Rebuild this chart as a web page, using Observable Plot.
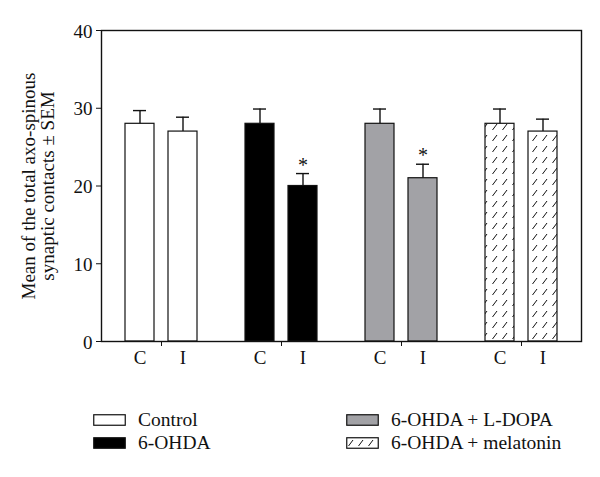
<!DOCTYPE html>
<html>
<head>
<meta charset="utf-8">
<script src="https://cdn.jsdelivr.net/npm/d3@7"></script>
<script src="https://cdn.jsdelivr.net/npm/@observablehq/plot@0.6"></script>
<style>
  html, body { margin: 0; padding: 0; background: white; }
  #wrap { position: relative; width: 600px; height: 477px; font-family: "Liberation Serif", serif; color: #111; }
  .leg { position: absolute; font-size: 19.5px; display: flex; align-items: center; white-space: nowrap; }
  .leg svg { margin-right: 12px; }
</style>
</head>
<body>
<div id="wrap"></div>
<script>
const groups = ["Control", "6-OHDA", "6-OHDA + L-DOPA", "6-OHDA + melatonin"];
const sides = ["C", "I"];
const barGroup = ["Control", "Control", "6-OHDA", "6-OHDA", "6-OHDA + L-DOPA", "6-OHDA + L-DOPA", "6-OHDA + melatonin", "6-OHDA + melatonin"];
const barSide = ["C", "I", "C", "I", "C", "I", "C", "I"];
const means = [28, 27, 28, 20, 28, 21, 28, 27];
const sems = [1.7, 1.85, 1.9, 1.6, 1.9, 1.8, 1.9, 1.6];
const significant = [false, false, false, true, false, true, false, false];
const groupFills = ["white", "black", "#a2a2a6", "url(#hatch)"];
const yTicks = [0, 10, 20, 30, 40];

const data = means.map((m, i) => ({
  group: barGroup[i], side: barSide[i], mean: m, top: m + sems[i], sig: significant[i]
}));

const chart = Plot.plot({
  width: 600, height: 380,
  marginTop: 30, marginLeft: 101, marginRight: 19, marginBottom: 39,
  style: { fontFamily: "Liberation Serif, serif", fontSize: "19px", color: "#111", background: "white" },
  fx: { domain: groups, padding: 0 },
  x: { domain: sides, paddingInner: 0.318, paddingOuter: 0.523 },
  y: { domain: [0, 40] },
  color: { domain: groups, range: groupFills },
  marks: [
    Plot.barY(data, { fx: "group", x: "side", y: "mean", fill: "group", stroke: "#111", strokeWidth: 1.2 }),
    Plot.ruleX(data, { fx: "group", x: "side", y1: "mean", y2: "top", stroke: "#111", strokeWidth: 1.4 }),
    Plot.tickY(data, { fx: "group", x: "side", y: "top", insetLeft: 8, insetRight: 8, stroke: "#111", strokeWidth: 1.4 }),
    Plot.text(data.filter(d => d.sig), { fx: "group", x: "side", y: "top", text: () => "*", lineAnchor: "bottom", dy: -2, fontSize: 20, fill: "#111" }),
    Plot.frame({ facet: "super", stroke: "#111", strokeWidth: 1.4 }),
    Plot.axisY({ ticks: yTicks, tickSize: 5, tickPadding: 4, label: "Mean of the total axo-spinous\nsynaptic contacts ± SEM", labelAnchor: "center", labelOffset: 80, labelArrow: "none", lineHeight: 1.15 }),
    Plot.axisX({ tickSize: 0, tickPadding: 9, label: null }),
    Plot.axisFx({ anchor: "bottom", tickSize: 5, tickFormat: () => "", label: null })
  ]
});

const ns = "http://www.w3.org/2000/svg";
const defs = document.createElementNS(ns, "defs");
defs.innerHTML = `<pattern id="hatch" patternUnits="userSpaceOnUse" width="10" height="11">
  <rect width="10" height="11" fill="white"/>
  <line x1="2.5" y1="9" x2="7" y2="3" stroke="#111" stroke-width="1"/>
</pattern>`;
chart.insertBefore(defs, chart.firstChild);

const wrap = document.getElementById("wrap");
wrap.appendChild(chart);

const legendPos = [[93, 420], [93, 443], [346, 420], [346, 443]];
groups.forEach((g, i) => {
  const d = document.createElement("div");
  d.className = "leg";
  d.style.left = legendPos[i][0] + "px";
  d.style.top = (legendPos[i][1] - 11) + "px";
  d.style.height = "22px";
  const f = groupFills[i];
  d.innerHTML = `<svg width="33" height="12"><defs><pattern id="lh${i}" patternUnits="userSpaceOnUse" width="10" height="11"><rect width="10" height="11" fill="white"/><line x1="2.5" y1="9" x2="7" y2="3" stroke="#111" stroke-width="1"/></pattern></defs><rect x="0.75" y="0.75" width="31.5" height="10.5" fill="${f.startsWith('url') ? 'url(#lh' + i + ')' : f}" stroke="#111" stroke-width="1.2"/></svg><span>${g}</span>`;
  wrap.appendChild(d);
});
</script>
</body>
</html>
